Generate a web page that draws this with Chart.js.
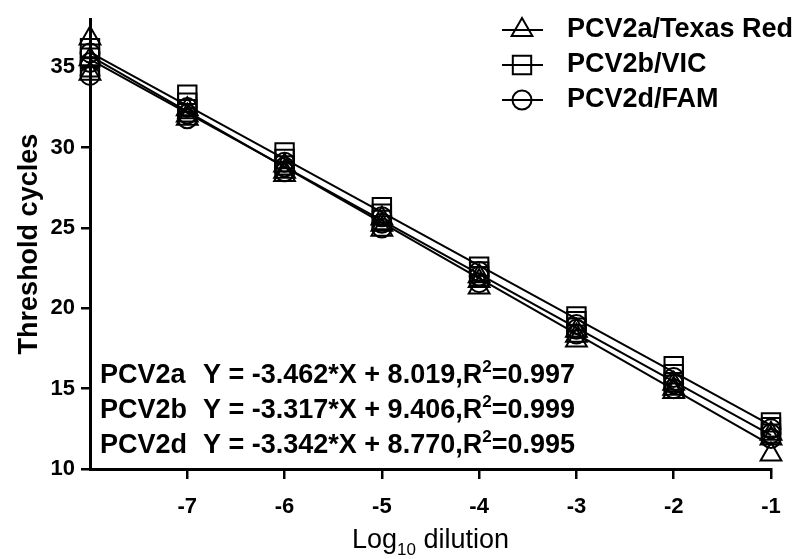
<!DOCTYPE html>
<html lang="en">
<head>
<meta charset="utf-8">
<title>PCV2 standard curves</title>
<script src="https://cdn.jsdelivr.net/npm/chart.js@4.4.1/dist/chart.umd.min.js"></script>
<style>
html, body { margin: 0; padding: 0; background: #fff; }
</style>
</head>
<body>
<canvas id="curve-chart" width="799" height="559"></canvas>

<script>
// log10 dilution steps
var dilutions = [-8, -7, -6, -5, -4, -3, -2, -1];

// Ct replicates, one row per dilution
var ctPCV2a = [[36.8, 35.5, 34.6], [32.4, 32.0, 31.8], [28.9, 28.5, 28.3], [25.6, 25.2, 24.9],
               [22.0, 21.7, 21.3], [18.6, 18.3, 18.0], [15.3, 15.0, 14.8], [12.2, 11.9, 10.9]];
var ctPCV2b = [[36.2, 35.6, 35.0], [33.3, 32.8, 32.4], [29.7, 29.3, 28.9], [26.3, 25.9, 25.5],
               [22.6, 22.3, 22.0], [19.5, 19.2, 18.8], [16.4, 15.9, 15.4], [12.9, 12.6, 12.2]];
var ctPCV2d = [[35.9, 35.3, 34.5], [32.5, 32.1, 31.8], [29.1, 28.8, 28.5], [25.7, 25.3, 25.0],
               [22.3, 22.0, 21.6], [19.0, 18.7, 18.4], [15.7, 15.3, 15.0], [12.5, 12.2, 11.9]];

// regression fits
var slopes = [-3.462, -3.317, -3.342];
var intercepts = [8.019, 9.406, 8.770];
var rSquared = ['0.997', '0.999', '0.995'];

var seriesNames = ['PCV2a/Texas Red', 'PCV2b/VIC', 'PCV2d/FAM'];
var shortNames = ['PCV2a', 'PCV2b', 'PCV2d'];
var markers = ['triangle', 'rect', 'circle'];
var markerSizes = [12, 13, 9.5];

var xTicks = [-7, -6, -5, -4, -3, -2, -1];
var yTicks = [10, 15, 20, 25, 30, 35];

var ctSets = [ctPCV2a, ctPCV2b, ctPCV2d];
var FONT = '"Liberation Sans", Arial, sans-serif';

function toPoints(rows) {
  var pts = [];
  for (var i = 0; i < rows.length; i++) {
    for (var j = 0; j < rows[i].length; j++) {
      pts.push({x: dilutions[i], y: rows[i][j]});
    }
  }
  return pts;
}

var datasets = [];
for (var k = 0; k < 3; k++) {
  var x0 = dilutions[0], x1 = dilutions[dilutions.length - 1];
  datasets.push({
    type: 'line',
    label: seriesNames[k] + ' fit',
    data: [{x: x0, y: slopes[k] * x0 + intercepts[k]}, {x: x1, y: slopes[k] * x1 + intercepts[k]}],
    borderColor: '#000',
    borderWidth: 2,
    pointRadius: 0,
    fill: false,
    clip: false
  });
  datasets.push({
    type: 'scatter',
    label: seriesNames[k],
    data: toPoints(ctSets[k]),
    pointStyle: markers[k],
    pointRadius: markerSizes[k],
    pointBorderColor: '#000',
    pointBackgroundColor: 'rgba(0,0,0,0)',
    pointBorderWidth: 2,
    clip: false
  });
}

// legend, equations and axis titles
var annotations = {
  id: 'annotations',
  afterDraw: function(chart) {
    var ctx = chart.ctx;
    ctx.save();
    ctx.fillStyle = '#000';
    ctx.strokeStyle = '#000';
    ctx.textBaseline = 'middle';

    // legend
    for (var i = 0; i < 3; i++) {
      var ly = 30 + i * 35;
      ctx.lineWidth = 2;
      ctx.beginPath();
      ctx.moveTo(502, ly);
      ctx.lineTo(543, ly);
      ctx.stroke();
      ctx.fillStyle = 'rgba(0,0,0,0)';
      Chart.helpers.drawPoint(ctx, {pointStyle: markers[i], radius: markerSizes[i], rotation: 0, borderWidth: 2}, 522, ly);
      ctx.fillStyle = '#000';
      ctx.font = 'bold 27px ' + FONT;
      ctx.textAlign = 'left';
      ctx.fillText(seriesNames[i], 567, ly);
    }

    // fit equations
    for (var e = 0; e < 3; e++) {
      var ey = 376 + e * 35;
      ctx.font = 'bold 27px ' + FONT;
      ctx.fillText(shortNames[e], 100, ey);
      var eq = 'Y = ' + slopes[e].toFixed(3) + '*X + ' + intercepts[e].toFixed(3) + ',R';
      ctx.fillText(eq, 203, ey);
      var ex = 203 + ctx.measureText(eq).width;
      ctx.font = 'bold 17px ' + FONT;
      ctx.fillText('2', ex, ey - 9);
      ex += ctx.measureText('2').width;
      ctx.font = 'bold 27px ' + FONT;
      ctx.fillText('=' + rSquared[e], ex, ey);
    }

    // x title with subscript
    var a = chart.chartArea;
    var big = '27px ' + FONT;
    var small = '17px ' + FONT;
    ctx.font = big;
    var w1 = ctx.measureText('Log').width;
    var w3 = ctx.measureText(' dilution').width;
    ctx.font = small;
    var w2 = ctx.measureText('10').width;
    var tx = (a.left + a.right) / 2 - (w1 + w2 + w3) / 2;
    var ty = 541;
    ctx.font = big;
    ctx.fillText('Log', tx, ty);
    ctx.font = small;
    ctx.fillText('10', tx + w1, ty + 9);
    ctx.font = big;
    ctx.fillText(' dilution', tx + w1 + w2, ty);

    // y title
    ctx.translate(30, (a.top + a.bottom) / 2);
    ctx.rotate(-Math.PI / 2);
    ctx.textAlign = 'center';
    ctx.font = 'bold 27px ' + FONT;
    ctx.fillText('Threshold cycles', 0, 0);
    ctx.restore();
  }
};

new Chart(document.getElementById('curve-chart'), {
  type: 'scatter',
  data: {datasets: datasets},
  options: {
    responsive: false,
    animation: false,
    devicePixelRatio: 1,
    layout: {padding: {top: 15, right: 28, left: 0, bottom: 0}},
    plugins: {legend: {display: false}, tooltip: {enabled: false}},
    scales: {
      x: {
        type: 'linear',
        min: -8,
        max: -1,
        afterBuildTicks: function(s) { s.ticks = xTicks.map(function(v) { return {value: v}; }); },
        afterFit: function(s) { s.height = 90; },
        grid: {display: true, drawOnChartArea: false, drawTicks: true, tickLength: 10, color: '#000', lineWidth: 2.5},
        border: {display: true, color: '#000', width: 3},
        ticks: {color: '#000', padding: 15, font: {family: FONT, size: 22, weight: 'bold'}}
      },
      y: {
        type: 'linear',
        min: 10,
        max: 38,
        afterBuildTicks: function(s) { s.ticks = yTicks.map(function(v) { return {value: v}; }); },
        afterFit: function(s) { s.width = 90; },
        grid: {display: true, drawOnChartArea: false, drawTicks: true, tickLength: 9, color: '#000', lineWidth: 2.5},
        border: {display: true, color: '#000', width: 3},
        ticks: {color: '#000', padding: 6, font: {family: FONT, size: 22, weight: 'bold'}}
      }
    }
  },
  plugins: [annotations]
});
</script>
</body>
</html>
